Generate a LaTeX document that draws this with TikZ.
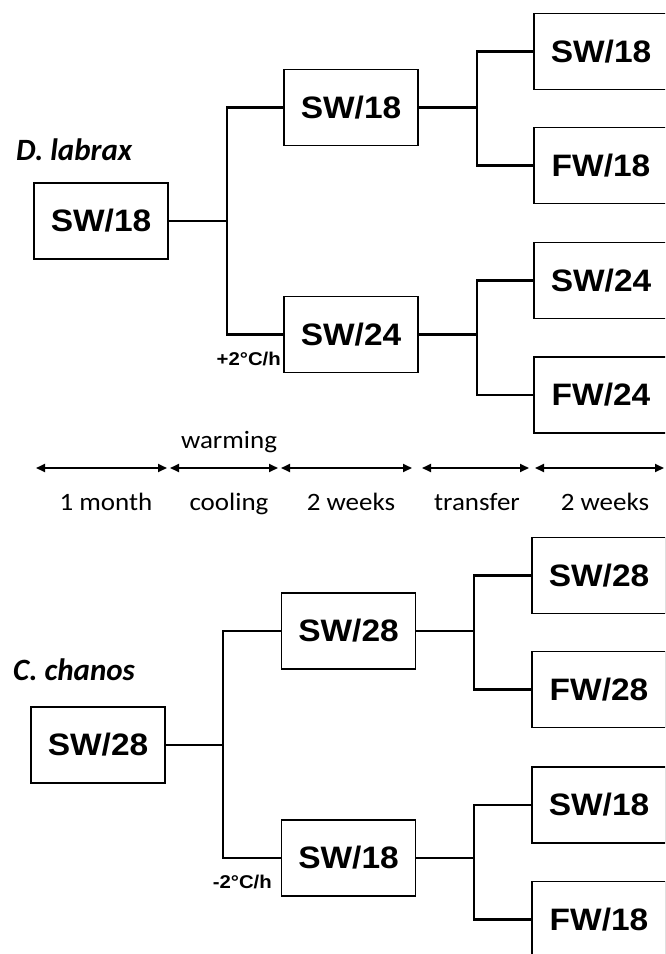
\documentclass[tikz,border=0pt]{standalone}
\usepackage{fontspec}
\usetikzlibrary{arrows.meta}
\newfontfamily\boxfont[FakeStretch=1.08]{Liberation Sans}
\newfontfamily\ratefont[FakeStretch=1.1]{Liberation Sans}
\newfontfamily\calfont[FakeStretch=1.08]{Carlito}
\newfontfamily\spfont{Carlito}
\tikzset{
  box/.style={draw=black, line width=1.7pt, minimum width=134pt, minimum height=76pt, inner sep=0pt, font=\boxfont\bfseries\fontsize{31}{31}\selectfont},
  conn/.style={line width=2.1pt, line join=miter},
  span/.style={line width=1.8pt, {Triangle[length=9pt,width=8pt]}-{Triangle[length=9pt,width=8pt]}},
  tl/.style={font=\calfont\fontsize{25}{25}\selectfont, inner sep=0pt, anchor=base},
  rate/.style={font=\ratefont\bfseries\fontsize{18.5}{18.5}\selectfont, inner sep=0pt, anchor=base east},
  species/.style={font=\spfont\bfseries\itshape\fontsize{31}{31}\selectfont, inner sep=0pt, anchor=base west}
}
\begin{document}
\begin{tikzpicture}[x=1pt,y=-1pt]
\useasboundingbox (0,0) rectangle (665,954);
\clip (0,0) rectangle (665,954);
% ---------- D. labrax ----------
\node[species] (sp1) at (16,160) {D. labrax};
\node[box] (L1) at (101,221) {SW/18};
\node[box] (M1a) at (351,107.5) {SW/18};
\node[box] (M1b) at (351,334.5) {SW/24};
\node[box] (R1a) at (601,51.5) {SW/18};
\node[box] (R1b) at (601,165.5) {FW/18};
\node[box] (R1c) at (601,280.5) {SW/24};
\node[box] (R1d) at (601,395) {FW/24};
\coordinate (t1) at (227,221);
\coordinate (f1) at (477,107.5);
\coordinate (f2) at (477,334.5);
\draw[conn] (L1.east) -- (t1);
\draw[conn] (M1a.west) -| (t1) |- (M1b.west);
\draw[conn] (M1a.east) -- (f1);
\draw[conn] (R1a.west) -| (f1) |- (R1b.west);
\draw[conn] (M1b.east) -- (f2);
\draw[conn] (R1c.west) -| (f2) |- (R1d.west);
\node[rate] (r1) at (281,365) {+2\textdegree C/h};
% ---------- timeline ----------
\coordinate (a0) at (36,468);
\coordinate (a1) at (167,468);
\coordinate (b0) at (170,468);
\coordinate (b1) at (278,468);
\coordinate (c0) at (281,468);
\coordinate (c1) at (412,468);
\coordinate (d0) at (422,468);
\coordinate (d1) at (529,468);
\coordinate (e0) at (535,468);
\coordinate (e1) at (664,468);
\draw[span] (a0) -- (a1);
\draw[span] (b0) -- (b1);
\draw[span] (c0) -- (c1);
\draw[span] (d0) -- (d1);
\draw[span] (e0) -- (e1);
\node[tl] (w) at (229,448.5) {warming};
\node[tl] (t_a) at (106,510.5) {1 month};
\node[tl] (t_b) at (229,510.5) {cooling};
\node[tl] (t_c) at (351,510.5) {2 weeks};
\node[tl] (t_d) at (477,510.5) {transfer};
\node[tl] (t_e) at (605,510.5) {2 weeks};
% ---------- C. chanos ----------
\node[species] (sp2) at (13,680) {C. chanos};
\node[box] (L2) at (98,745) {SW/28};
\node[box] (M2a) at (348.5,631) {SW/28};
\node[box] (M2b) at (348.5,858) {SW/18};
\node[box] (R2a) at (599,575.5) {SW/28};
\node[box] (R2b) at (599,689.5) {FW/28};
\node[box] (R2c) at (599,805) {SW/18};
\node[box] (R2d) at (599,919.5) {FW/18};
\coordinate (t2) at (223,745);
\coordinate (g1) at (474,631);
\coordinate (g2) at (474,858);
\draw[conn] (L2.east) -- (t2);
\draw[conn] (M2a.west) -| (t2) |- (M2b.west);
\draw[conn] (M2a.east) -- (g1);
\draw[conn] (R2a.west) -| (g1) |- (R2b.west);
\draw[conn] (M2b.east) -- (g2);
\draw[conn] (R2c.west) -| (g2) |- (R2d.west);
\node[rate] (r2) at (272,888) {-2\textdegree C/h};
\end{tikzpicture}
\end{document}
